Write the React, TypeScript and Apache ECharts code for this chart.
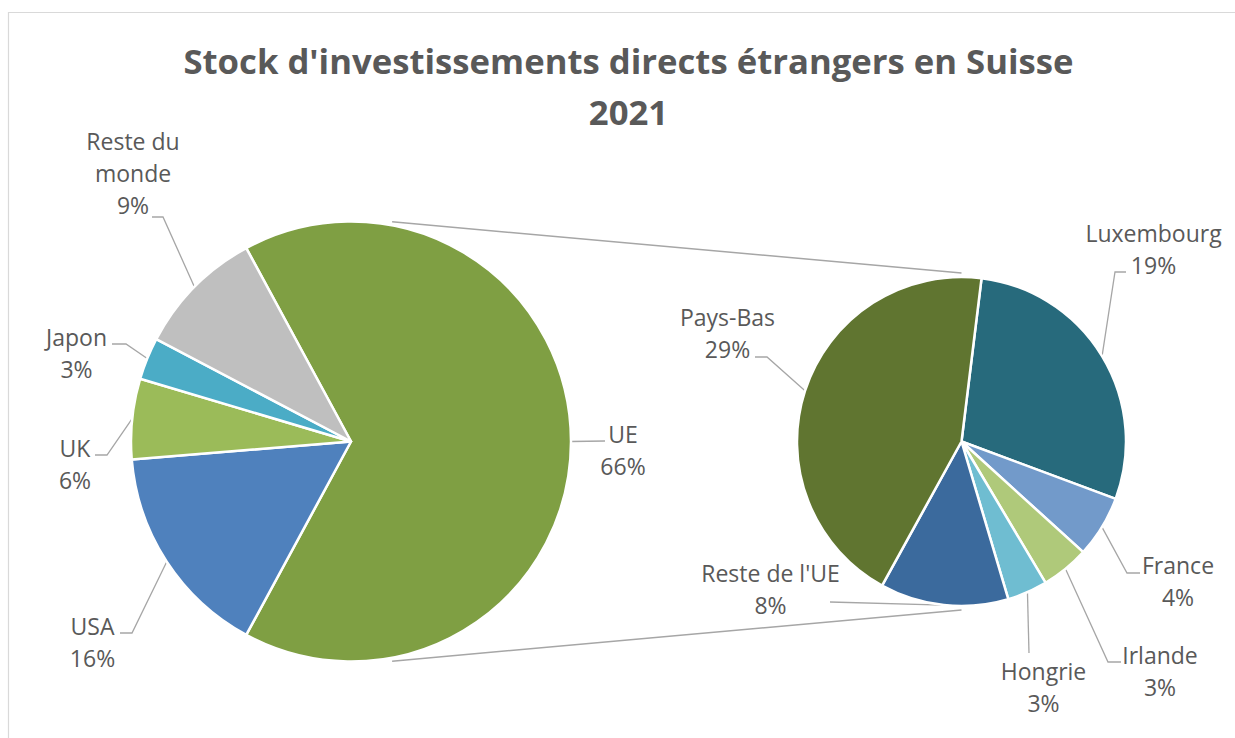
import React, { useEffect, useRef } from 'react';
import * as echarts from 'echarts';

// ---- Data ----
const titleLines = ["Stock d'investissements directs étrangers en Suisse", '2021'];

const mainCategories = ['UE', 'USA', 'UK', 'Japon', 'Reste du monde'];
const mainValues = [65.8, 15.8, 5.9, 3.1, 9.4];

const euCategories = ['Luxembourg', 'France', 'Irlande', 'Hongrie', "Reste de l'UE", 'Pays-Bas'];
const euValues = [18.9, 4.0, 3.1, 2.6, 8.3, 28.9];

// ---- Styles / layout ----
const mainColors = ['#7f9f43', '#4f81bd', '#9bbb59', '#4bacc6', '#bfbfbf'];
const euColors = ['#276a7c', '#729aca', '#afc97a', '#6fbdd1', '#3b6a9d', '#607530'];

const MAIN_C = [351, 441.5];
const MAIN_R = 220;
const SUB_C = [961.5, 441.5];
const SUB_R = 164.5;

// label centre (c), leader attach point (a), elbow length (e)
const mainLabelPos = [
  { c: [623, 450], a: [605, 441], e: 0 },
  { c: [92.5, 642], a: [120, 633], e: 12 },
  { c: [75, 464], a: [95, 455], e: 12 },
  { c: [76.5, 352.5], a: [112, 344], e: 14 },
  { c: [133, 173], a: [152, 217], e: 11 },
];
const euLabelPos = [
  { c: [1153.5, 248.5], a: [1126, 272], e: -11 },
  { c: [1178, 581], a: [1140, 573], e: -13 },
  { c: [1160, 670.6], a: [1121, 662], e: -13 },
  { c: [1043.5, 687], a: [1029, 653], e: 0 },
  { c: [770.5, 589], a: [830, 602], e: 0 },
  { c: [727.5, 333], a: [755, 357], e: 12 },
];

const TEXT = '#595959';
const LINE = '#a6a6a6';
const FONT = '"Open Sans", "Noto Sans", sans-serif';

function makeLayout(pos: any[]) {
  return (p: any) => {
    const L = pos[p.dataIndex];
    if (!L) return {};
    const edge = p.labelLinePoints && p.labelLinePoints[0] ? p.labelLinePoints[0] : L.a;
    const elbow = [L.a[0] + L.e, L.a[1]];
    return {
      x: L.c[0],
      y: L.c[1],
      align: 'center',
      verticalAlign: 'middle',
      labelLinePoints: [[edge[0], edge[1]], elbow, [L.a[0], L.a[1]]],
    };
  };
}

function labelText(p: any) {
  const name = String(p.name).replace('du monde', 'du\nmonde');
  return name + '\n' + Math.round(p.value) + '%';
}

function pieSeries(name: string, cats: string[], vals: number[], colors: string[], center: number[], r: number, startAngle: number, pos: any[]) {
  return {
    type: 'pie',
    name,
    center,
    radius: [0, r],
    startAngle,
    clockwise: true,
    avoidLabelOverlap: false,
    silent: true,
    emphasis: { disabled: true },
    itemStyle: { borderColor: '#ffffff', borderWidth: 2.5 },
    label: {
      show: true,
      position: 'outside',
      formatter: labelText,
      fontSize: 23,
      fontFamily: FONT,
      color: TEXT,
      lineHeight: 32,
      align: 'center',
    },
    labelLine: {
      show: true,
      length: 10,
      length2: 10,
      smooth: false,
      lineStyle: { color: LINE, width: 1.3 },
    },
    labelLayout: makeLayout(pos),
    data: cats.map((c, i) => ({ name: c, value: vals[i], itemStyle: { color: colors[i] } })),
  };
}

export default function App() {
  const ref = useRef<HTMLDivElement>(null);
  useEffect(() => {
    if (!ref.current) return;
    const chart = echarts.init(ref.current, undefined, { renderer: 'svg' });
    const mainTotal = mainValues.reduce((a, b) => a + b, 0);
    // split slice (UE) centred on the 3 o'clock direction
    const mainStart = ((mainValues[0] / mainTotal) * 360) / 2;
    const subStart = 83;

    const ang = (10.6 * Math.PI) / 180;
    const r1 = MAIN_R + 3.5;
    const r2 = SUB_R + 4;
    const p1 = [MAIN_C[0] + r1 * Math.sin(ang), MAIN_C[1] - r1 * Math.cos(ang)];
    const p2 = [SUB_C[0], SUB_C[1] - r2];
    const p3 = [MAIN_C[0] + r1 * Math.sin(ang), MAIN_C[1] + r1 * Math.cos(ang)];
    const p4 = [SUB_C[0], SUB_C[1] + r2];

    chart.setOption({
      animation: false,
      backgroundColor: '#ffffff',
      title: {
        text: titleLines.join('\n'),
        left: 623.5,
        top: 30,
        textAlign: 'center',
        textStyle: { fontSize: 34.7, fontWeight: 'bold', fontFamily: FONT, color: TEXT, lineHeight: 51 },
      },
      graphic: [
        { type: 'rect', z: -10, silent: true, shape: { x: 8.5, y: 12.5, width: 1400, height: 900 }, style: { fill: 'none', stroke: '#d9d9d9', lineWidth: 1.2 } },
        { type: 'line', z: 1, silent: true, shape: { x1: p1[0], y1: p1[1], x2: p2[0], y2: p2[1] }, style: { stroke: LINE, lineWidth: 1.5 } },
        { type: 'line', z: 1, silent: true, shape: { x1: p3[0], y1: p3[1], x2: p4[0], y2: p4[1] }, style: { stroke: LINE, lineWidth: 1.5 } },
      ],
      series: [
        pieSeries('Monde', mainCategories, mainValues, mainColors, MAIN_C, MAIN_R, mainStart, mainLabelPos),
        pieSeries('UE', euCategories, euValues, euColors, SUB_C, SUB_R, subStart, euLabelPos),
      ],
    });
    return () => chart.dispose();
  }, []);
  return <div ref={ref} style={{ position: 'absolute', left: 0, top: 0, width: 1235, height: 738 }} />;
}
